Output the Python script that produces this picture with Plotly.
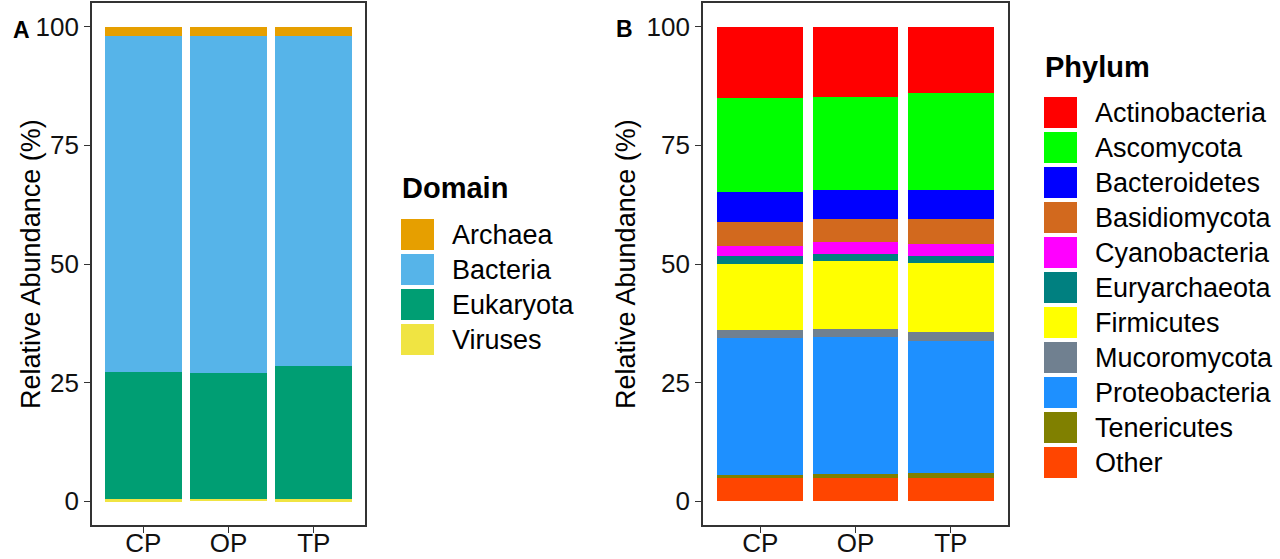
import plotly.graph_objects as go

W, H = 1280, 559
samples = ["CP", "OP", "TP"]

# Panel A: Domain (legend order, top of stack first)
domain_names = ["Archaea", "Bacteria", "Eukaryota", "Viruses"]
domain_colors = ["#E69F00", "#56B4E9", "#009E73", "#F0E442"]
domain_values = {
    "Archaea":   [1.9, 1.9, 1.9],
    "Bacteria":  [70.9, 71.0, 69.5],
    "Eukaryota": [26.8, 26.6, 28.2],
    "Viruses":   [0.4, 0.5, 0.4],
}

# Panel B: Phylum (legend order, top of stack first)
phylum_names = ["Actinobacteria", "Ascomycota", "Bacteroidetes", "Basidiomycota",
                "Cyanobacteria", "Euryarchaeota", "Firmicutes", "Mucoromycota",
                "Proteobacteria", "Tenericutes", "Other"]
phylum_colors = ["#FF0000", "#00FF00", "#0000FF", "#D2691E", "#FF00FF", "#008080",
                 "#FFFF00", "#708090", "#1E90FF", "#808000", "#FF4500"]
phylum_values = {
    "Actinobacteria": [15.1, 14.8, 13.9],
    "Ascomycota":     [19.7, 19.6, 20.5],
    "Bacteroidetes":  [6.4, 6.1, 6.1],
    "Basidiomycota":  [5.1, 4.8, 5.3],
    "Cyanobacteria":  [2.1, 2.6, 2.6],
    "Euryarchaeota":  [1.6, 1.4, 1.3],
    "Firmicutes":     [13.9, 14.4, 14.7],
    "Mucoromycota":   [1.7, 1.6, 1.8],
    "Proteobacteria": [28.8, 29.0, 27.9],
    "Tenericutes":    [0.8, 0.9, 1.0],
    "Other":          [4.8, 4.8, 4.9],
}

y_ticks = [0, 25, 50, 75, 100]
FONT = "Liberation Sans, Arial, sans-serif"

def px_x(x):
    return x / W

def px_y(y):
    return 1 - y / H

fig = go.Figure()

# stacked bars: first trace at bottom, so add in reverse legend order
for name, col in reversed(list(zip(domain_names, domain_colors))):
    fig.add_trace(go.Bar(x=samples, y=domain_values[name], name=name,
                         marker=dict(color=col, line=dict(width=0)),
                         width=0.9, xaxis="x", yaxis="y", showlegend=False))
for name, col in reversed(list(zip(phylum_names, phylum_colors))):
    fig.add_trace(go.Bar(x=samples, y=phylum_values[name], name=name,
                         marker=dict(color=col, line=dict(width=0)),
                         width=0.9, xaxis="x2", yaxis="y2", showlegend=False))

axis_common = dict(showline=True, mirror=True, linecolor="#333333", linewidth=1.6,
                   ticks="outside", ticklen=6, tickwidth=1.4, tickcolor="#333333",
                   showgrid=False, zeroline=False, automargin=False,
                   tickfont=dict(family=FONT, size=26, color="#111111"))
ydom = [px_y(525), px_y(3)]

fig.update_layout(
    width=W, height=H, margin=dict(l=0, r=0, t=0, b=0),
    paper_bgcolor="white", plot_bgcolor="white",
    barmode="stack", showlegend=False,
    xaxis=dict(domain=[px_x(92), px_x(365)], anchor="y", ticklabelstandoff=-12,
               type="category", **axis_common),
    yaxis=dict(domain=ydom, range=[-5, 105], tickvals=y_ticks, anchor="x", **axis_common),
    xaxis2=dict(domain=[px_x(703), px_x(1008)], anchor="y2", ticklabelstandoff=-12,
                type="category", **axis_common),
    yaxis2=dict(domain=ydom, range=[-5, 105], tickvals=y_ticks, anchor="x2", **axis_common),
)
fig.update_xaxes(range=[-0.6, 2.6])

annotations = []
shapes = []

# panel labels
annotations.append(dict(x=px_x(11), y=px_y(15), xref="paper", yref="paper", text="<b>A</b>",
                        showarrow=False, font=dict(family=FONT, size=23, color="black")))
annotations.append(dict(x=px_x(624), y=px_y(14), xref="paper", yref="paper", text="<b>B</b>",
                        showarrow=False, font=dict(family=FONT, size=23, color="black")))

# axis titles
for xc in (14, 626):
    annotations.append(dict(x=px_x(xc), y=px_y(264), xref="paper", yref="paper",
                            text="Relative Abundance (%)", textangle=-90, showarrow=False,
                            font=dict(family=FONT, size=27, color="black")))

def add_legend(title, names, colors, title_x, title_y, sw_x, sw_top, text_x):
    annotations.append(dict(x=px_x(title_x), y=px_y(title_y), xref="paper", yref="paper",
                            text="<b>%s</b>" % title, showarrow=False, xanchor="left",
                            yanchor="middle",
                            font=dict(family=FONT, size=29, color="black")))
    for i, (n, c) in enumerate(zip(names, colors)):
        top = sw_top + i * 35
        shapes.append(dict(type="rect", xref="paper", yref="paper",
                           x0=px_x(sw_x), x1=px_x(sw_x + 33),
                           y0=px_y(top + 31), y1=px_y(top),
                           fillcolor=c, line=dict(width=0)))
        annotations.append(dict(x=px_x(text_x), y=px_y(top + 16), xref="paper", yref="paper",
                                text=n, showarrow=False, xanchor="left", yanchor="middle",
                                font=dict(family=FONT, size=27, color="black")))

add_legend("Domain", domain_names, domain_colors, 400, 188, 401, 219, 450)
add_legend("Phylum", phylum_names, phylum_colors, 1043, 67, 1044, 97, 1093)

fig.update_layout(annotations=annotations, shapes=shapes)
fig.write_html("out.html")
